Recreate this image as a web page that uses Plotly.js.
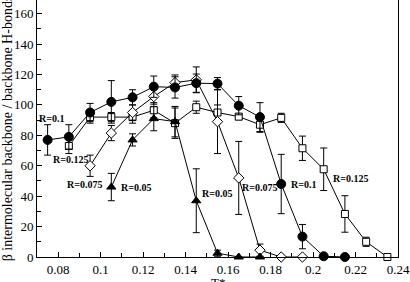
<!DOCTYPE html>
<html>
<head>
<meta charset="utf-8">
<script src="https://cdn.plot.ly/plotly-3.0.1.min.js"></script>
<style>html,body{margin:0;padding:0;background:#fff;}#chart{width:410px;height:282px;}</style>
</head>
<body>
<div id="chart"></div>
<script>
// R = 0.125 (open squares)
const tSquare = [0.085,0.095,0.105,0.115,0.125,0.135,0.145,0.155,0.165,0.175,0.185,0.195,0.205,0.215,0.225,0.235];
const ySquare = [73,92,92,92,96.5,88,98.5,95,92.3,87,91.5,71.5,57.7,28.3,10,0];
const eSquare = [5,4,3,4,5,10,4,5,2,5,3,8,14,12,3,null];

// R = 0.1 (filled circles)
const tCircle = [0.075,0.085,0.095,0.105,0.115,0.125,0.135,0.145,0.155,0.165,0.175,0.185,0.195,0.205,0.215];
const yCircle = [77,79,95,102,105,112,111.5,114.3,114,99.5,92,48,13.4,0.5,0];
const eCircle = [10,8,6,14,5,7,7,6,4,6,9.5,19.5,8,null,null];

// R = 0.075 (open diamonds)
const tDiamond = [0.095,0.105,0.115,0.125,0.135,0.145,0.155,0.165,0.175,0.185,0.195];
const yDiamond = [60,81.5,95,105.5,114.7,116.5,89,52,4.5,0,0];
const eDiamond = [7,5,5,5,5,8.5,21,24,4,null,null];

// R = 0.05 (filled triangles)
const tTriangle = [0.105,0.115,0.125,0.135,0.145,0.155,0.165,0.175];
const yTriangle = [46,77,91,89,37,2.5,0,0];
const eTriangle = [9,4,8,10,21,2,null,null];

// curve labels
const labelText = ["R=0.1","R=0.125","R=0.075","R=0.05","R=0.05","R=0.075","R=0.1","R=0.125"];
const labelT =    [0.0767,0.0860,0.0926,0.1167,0.1547,0.1747,0.1957,0.2174];
const labelY =    [90.8,63.8,48,46,42,45.4,47.4,51.3];

const xTitle = 'T*';
const yTitle = 'β intermolecular backbone / backbone H-bonds';

function series(x, y, e, sym, size, fill) {
  return {
    x: x, y: y, type: 'scatter', mode: 'lines+markers',
    line: {color: 'black', width: 1},
    marker: {symbol: sym, size: size, color: fill, line: {color: 'black', width: 1}},
    error_y: {type: 'data', array: e, visible: true, color: 'black', thickness: 1, width: 3.5},
    showlegend: false, cliponaxis: false
  };
}

const data = [
  series(tSquare, ySquare, eSquare, 'square', 7, 'white'),
  series(tDiamond, yDiamond, eDiamond, 'diamond', 8, 'white'),
  series(tTriangle, yTriangle, eTriangle, 'triangle-up', 8, 'black'),
  series(tCircle, yCircle, eCircle, 'circle', 9, 'black')
];

const serif = 'Liberation Serif, Times New Roman, serif';

const annotations = labelText.map((t, i) => ({
  x: labelT[i], y: labelY[i], xref: 'x', yref: 'y', text: '<b>' + t + '</b>',
  showarrow: false, xanchor: 'center', yanchor: 'middle',
  font: {family: serif, size: 10, color: 'black'}
}));
annotations.push({
  x: 0.5, y: -0.064, xref: 'paper', yref: 'paper', text: xTitle,
  showarrow: false, xanchor: 'center', yanchor: 'top',
  font: {family: serif, size: 13, color: 'black'}
});

const tickFont = {family: serif, size: 13, color: 'black'};

const layout = {
  width: 410, height: 282,
  margin: {l: 37, r: 12, t: 0, b: 25, pad: 0},
  paper_bgcolor: 'white', plot_bgcolor: 'white',
  font: tickFont,
  xaxis: {
    range: [0.07, 0.24], dtick: 0.02, tick0: 0.08,
    ticks: 'inside', ticklen: 5, tickcolor: 'black', tickwidth: 1,
    minor: {dtick: 0.01, ticks: 'inside', ticklen: 4, tickcolor: 'black', tickwidth: 1},
    showline: true, linecolor: 'black', linewidth: 1, mirror: false,
    showgrid: false, zeroline: false, tickfont: tickFont
  },
  yaxis: {
    range: [0, 169], dtick: 20, tick0: 0,
    ticks: 'inside', ticklen: 5, tickcolor: 'black', tickwidth: 1,
    minor: {dtick: 10, ticks: 'inside', ticklen: 4, tickcolor: 'black', tickwidth: 1},
    showline: true, linecolor: 'black', linewidth: 1, mirror: true,
    showgrid: false, zeroline: false, tickfont: tickFont,
    title: {text: yTitle, font: {family: serif, size: 14, color: 'black'}, standoff: 2}
  },
  annotations: annotations
};

Plotly.newPlot('chart', data, layout, {staticPlot: true, displayModeBar: false});
</script>
</body>
</html>
